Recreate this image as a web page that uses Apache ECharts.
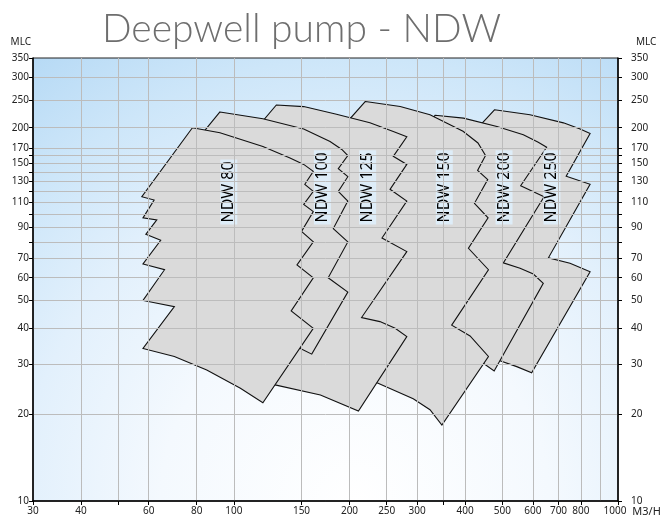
<!DOCTYPE html>
<html><head><meta charset="utf-8">
<script src="https://cdn.jsdelivr.net/npm/echarts@6/dist/echarts.min.js"></script>
<style>html,body{margin:0;padding:0;background:#fff}#c{width:669px;height:517px}</style>
</head><body><div id="c"></div>
<script>
// Pump range outlines: [flow m3/h, head MLC]
const pumpNames = ['NDW 80', 'NDW 100', 'NDW 125', 'NDW 150', 'NDW 200', 'NDW 250'];
const ndw80 = [[78,200],[92,192],[119,172],[140,157],[152,149],[161,141],
  [153,127],[161,120],[152,108],[161,102],[150,87],[161,80],[146,66.5],[161,60],[141,46],[161,40],
  [119,22],[104,24.7],[85,28.6],[70,31.9],[58,34],
  [70,47.6],[58,50],[66,64],[58,67],[64.5,81],[59,85],[63,95.5],[58,97],[62,112],[57.6,115]];
const ndw100 = [[92,227],[119,215],[152,198],[178,179],[191,168],[198,160],
  [187,144],[198,135],[187,120],[198,111],[181.5,89],[198,80],[176,60],[198,53.5],
  [159.5,32.5],[149,34],[117,38],[83,192]];
const ndw125 = [[129,240],[152,237],[185,223],[226,208],[260,194],[282,186],
  [260,159],[282,149],[255,122],[282,111],[243,82.5],[282,74],[215,43.6],[240,42.2],[263,40],[282,37.4],
  [211,20.6],[168,23.4],[128,25.4],[110,27.5],[116,203]];
const ndw150 = [[220,247],[271,237],[324,222],[395,194.5],[432,177],[452,160],
  [431,142],[458,132],[423,109],[459,97],[408,76],[460,64],[369,41],[412,37.6],[460,31.9],
  [348,18.4],[324,20.8],[293,22.7],[235,25.9],[213,26.9],[195,206]];
const ndw200 = [[334,221],[396,216],[484,202],[567,189],[620,178],[652,171],
  [558,125.5],[642,115],[503,67.6],[556,64.8],[602,61.8],[639,57.4],
  [476,28.4],[446,30.2],[412,31.5],[355,39.5],[344,75],[324,210]];
const ndw250 = [[477,231],[590,222],[721,208],[797,198],[846,191],
  [733,135.5],[846,127],[659,70.4],[750,67.4],[846,63],
  [596,28],[545,29.4],[493,30.8],[464,32.3],[479,67.6],[508,122],[432,200]];
const labelFlow = [97, 170, 223, 353, 505, 673];
const labelHead = [92, 92, 92, 92, 92, 92];
const xTickValues = [30,40,50,60,80,100,150,200,250,300,350,400,500,600,700,800,900,1000];
const xLabelValues = [30,40,60,80,100,150,200,250,300,400,500,600,700,800,900,1000];
const yTickValues = [10,20,30,40,50,60,70,80,90,100,110,120,130,140,150,160,170,200,250,300,350];
const yLabelValues = [10,20,30,40,50,60,70,90,110,130,150,170,200,250,300,350];

const L = v => Math.log10(v);
const polys = [ndw80, ndw100, ndw125, ndw150, ndw200, ndw250];
const fmt = v => String(Math.round(Math.pow(10, v)));
const lblFont = '"Noto Sans", "Open Sans", sans-serif';
const baseLbl = {fontSize: 10, color: '#222', fontFamily: lblFont};

function yAxisDef(right) {
  return {
    type: 'value', min: L(10), max: L(350), position: right ? 'right' : 'left', z: 5,
    name: 'MLC', nameLocation: 'end', nameGap: 11,
    nameTextStyle: Object.assign({}, baseLbl, right ? {align: 'left', padding: [0, 0, 0, 18]} : {align: 'right', padding: [0, 2, 0, 0]}),
    axisLine: {show: true, onZero: false, lineStyle: {color: '#000', width: 1.5}},
    axisTick: {show: true, length: 4, customValues: yTickValues.map(L), lineStyle: {color: '#000'}},
    axisLabel: Object.assign({}, baseLbl, {customValues: yLabelValues.map(L), formatter: fmt,
      margin: right ? 13 : 4, showMinLabel: true, showMaxLabel: true}),
    splitLine: {show: !right, showMinLine: false, showMaxLine: false, lineStyle: {color: '#bcbcbc', width: 1}}
  };
}

const chart = echarts.init(document.getElementById('c'), null, {renderer: 'canvas'});
chart.setOption({
  animation: false,
  title: {text: 'Deepwell pump - NDW', left: 102, top: 10, padding: 0,
    textStyle: {fontFamily: 'Lato', fontWeight: 300, fontSize: 39, color: '#6e6e6e'}},
  grid: {left: 33, right: 51, top: 58, bottom: 16, show: true, borderColor: '#222', borderWidth: 1,
    backgroundColor: {type: 'radial', x: 0.55, y: 1, r: 1.25, colorStops: [
      {offset: 0, color: '#ffffff'}, {offset: 0.35, color: '#f4f9fe'}, {offset: 0.6, color: '#e2f0fc'},
      {offset: 0.8, color: '#cde6f9'}, {offset: 1, color: '#b5d9f5'}]}},
  xAxis: {
    type: 'value', min: L(30), max: L(1000), z: 5,
    name: 'M3/H', nameLocation: 'end', nameGap: 13,
    nameTextStyle: Object.assign({}, baseLbl, {fontSize: 11, verticalAlign: 'top', padding: [5, 0, 0, 0]}),
    axisLine: {show: true, onZero: false, lineStyle: {color: '#000', width: 1.5}},
    axisTick: {show: true, length: 4, customValues: xTickValues.map(L), lineStyle: {color: '#000'}},
    axisLabel: Object.assign({}, baseLbl, {customValues: xLabelValues.map(L), margin: 5,
      showMinLabel: true, showMaxLabel: true, hideOverlap: false,
      formatter: v => {
        const s = fmt(v);
        return s === '900' ? '{l5|' + s + '}' : (s === '1000' ? '{l3|' + s + '}' : s);
      },
      rich: {
        l5: Object.assign({}, baseLbl, {padding: [0, 10, 0, 0]}),
        l3: Object.assign({}, baseLbl, {padding: [0, 6, 0, 0]})
      }}),
    splitLine: {show: true, showMinLine: false, showMaxLine: false, lineStyle: {color: '#bcbcbc', width: 1}}
  },
  yAxis: [yAxisDef(false), yAxisDef(true)],
  series: [{
    type: 'custom', coordinateSystem: 'cartesian2d', z: 2,
    data: [5, 4, 3, 2, 1, 0].map(i => [L(labelFlow[i]), L(labelHead[i]), i]),
    encode: {x: 0, y: 1},
    renderItem: function (params, api) {
      const i = api.value(2);
      const pts = polys[i].map(p => api.coord([L(p[0]), L(p[1])]));
      const lp = api.coord([api.value(0), api.value(1)]);
      return {type: 'group', children: [
        {type: 'polygon', z2: 10 - i, shape: {points: pts},
          style: {fill: '#dadada', stroke: '#111', lineWidth: 1.1}},
        {type: 'text', z2: 50, x: lp[0], y: lp[1], rotation: Math.PI / 2,
          style: {text: pumpNames[i], fill: '#000', font: '16px ' + lblFont, align: 'left', verticalAlign: 'middle',
            backgroundColor: 'rgba(222,238,250,0.95)', padding: [1, 2, 0, 2]}}
      ]};
    }
  }]
});
</script>
</body></html>
